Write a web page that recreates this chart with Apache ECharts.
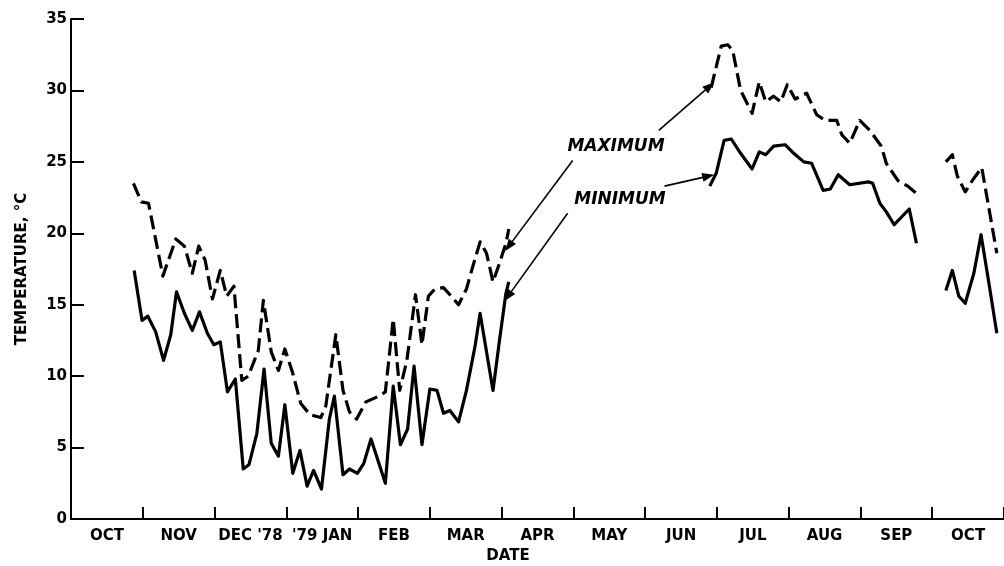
<!DOCTYPE html>
<html>
<head>
<meta charset="utf-8">
<script src="https://cdn.jsdelivr.net/npm/echarts@6/dist/echarts.min.js"></script>
<style>
  html, body { margin: 0; padding: 0; background: #fff; }
  #chart { width: 1004px; height: 566px; }
</style>
</head>
<body>
<div id="chart"></div>
<script>
// Month labels, one per month starting October 1978
const monthLabels = ['OCT', 'NOV', "DEC '78", "'79 JAN", 'FEB', 'MAR', 'APR', 'MAY', 'JUN', 'JUL', 'AUG', 'SEP', 'OCT'];

// Positions are in months since 1 October 1978; temperatures in °C
const maxFallX = [0.87,0.98,1.08,1.28,1.46,1.58,1.69,1.78,1.87,1.97,2.08,2.17,2.27,2.38,2.47,2.61,2.68,2.79,2.89,2.98,3.09,3.20,3.33,3.48,3.55,3.69,3.79,3.88,3.98,4.11,4.29,4.38,4.49,4.58,4.68,4.80,4.89,4.98,5.07,5.19,5.28,5.40,5.51,5.60,5.70,5.79,5.88,5.97,6.06,6.10];
const maxFallY = [23.5,22.2,22.1,17.0,19.6,19.1,17.2,19.1,18.1,15.4,17.4,15.6,16.3,9.7,10.0,11.8,15.3,11.7,10.4,11.9,10.2,8.1,7.3,7.1,7.9,12.9,9.0,7.5,7.0,8.2,8.6,8.9,14.0,9.0,11.1,15.7,12.2,15.6,16.1,16.2,15.7,15.0,16.1,17.7,19.4,18.6,16.6,17.9,19.3,20.3];

const minFallX = [0.88,0.99,1.07,1.18,1.29,1.39,1.47,1.58,1.69,1.79,1.90,1.99,2.08,2.18,2.29,2.40,2.48,2.59,2.69,2.79,2.89,2.98,3.09,3.19,3.29,3.38,3.49,3.60,3.67,3.79,3.88,3.99,4.08,4.18,4.29,4.38,4.49,4.59,4.69,4.78,4.89,5.00,5.10,5.19,5.28,5.40,5.51,5.63,5.70,5.88,5.97,6.06,6.10];
const minFallY = [17.4,13.9,14.2,13.1,11.1,12.9,15.9,14.4,13.2,14.5,13.0,12.2,12.4,8.9,9.8,3.5,3.8,6.0,10.5,5.3,4.4,8.0,3.2,4.8,2.3,3.4,2.1,7.0,8.6,3.1,3.5,3.2,3.9,5.6,3.9,2.5,9.3,5.2,6.3,10.7,5.2,9.1,9.0,7.4,7.6,6.8,9.0,12.1,14.4,9.0,12.5,15.8,16.6];

const maxSummerX = [8.92,9.06,9.15,9.22,9.33,9.49,9.59,9.68,9.79,9.89,9.98,10.09,10.25,10.39,10.51,10.67,10.74,10.85,10.99,11.13,11.29,11.36,11.52,11.66,11.80];
const maxSummerY = [30.2,33.1,33.2,32.8,30.0,28.4,30.6,29.2,29.6,29.2,30.4,29.4,29.8,28.3,27.9,27.9,26.9,26.3,27.9,27.2,26.1,24.9,23.7,23.3,22.7];

const minSummerX = [8.90,8.99,9.10,9.20,9.33,9.49,9.59,9.68,9.79,9.95,10.07,10.21,10.32,10.48,10.58,10.69,10.85,11.11,11.17,11.27,11.36,11.47,11.68,11.78];
const minSummerY = [23.3,24.2,26.5,26.6,25.6,24.5,25.7,25.5,26.1,26.2,25.6,25.0,24.9,23.0,23.1,24.1,23.4,23.6,23.5,22.1,21.5,20.6,21.7,19.3];

const maxAutumnX = [12.19,12.28,12.35,12.46,12.56,12.69,12.90];
const maxAutumnY = [25.0,25.5,24.0,22.9,23.7,24.6,18.6];

const minAutumnX = [12.19,12.28,12.37,12.46,12.58,12.68,12.79,12.90];
const minAutumnY = [16.0,17.4,15.6,15.1,17.2,19.9,16.5,13.0];

const zip = (xs, ys) => xs.map((x, i) => [x, ys[i]]);

const INK = '#000';
const dashStyle = { color: INK, width: 3.2, type: [14, 6], cap: 'butt', join: 'round' };
const solidStyle = { color: INK, width: 3.2, join: 'round' };

// Leader arrows from the MAXIMUM / MINIMUM captions to each curve (data units)
const arrowStyle = { color: INK, width: 1.6, type: 'solid' };
function arrow(from, to, curveness) {
  return [
    { coord: from, lineStyle: Object.assign({}, arrowStyle, { curveness: curveness }) },
    { coord: to }
  ];
}
function leaderSet(lines) {
  return {
    silent: true, animation: false,
    symbol: ['none', 'triangle'], symbolSize: [9, 12], symbolOffset: [0, 0],
    label: { show: false },
    emphasis: { disabled: true },
    itemStyle: { color: INK },
    lineStyle: arrowStyle,
    data: lines
  };
}
const maxArrows = leaderSet([
  arrow([8.19, 27.2], [8.90, 30.3], 0),
  arrow([6.99, 25.1], [6.10, 19.1], 0.15)
]);
const minArrows = leaderSet([
  arrow([8.27, 23.3], [8.88, 24.0], 0),
  arrow([6.92, 21.4], [6.09, 15.6], 0.13)
]);

function lineSeries(name, data, style, extra) {
  return Object.assign({
    name: name,
    type: 'line',
    xAxisIndex: 0,
    data: data,
    showSymbol: false,
    symbol: 'none',
    lineStyle: style,
    animation: false,
    silent: true,
    clip: true
  }, extra || {});
}

const chart = echarts.init(document.getElementById('chart'), null, { renderer: 'canvas' });

const labelFont = { color: INK, fontFamily: 'DejaVu Sans', fontWeight: 'bold', fontSize: 15 };

chart.setOption({
  backgroundColor: '#fff',
  animation: false,
  grid: { left: 71, top: 19, width: 941, height: 500, containLabel: false },
  xAxis: [
    {
      type: 'value', min: 0, max: 13, interval: 1,
      axisLine: { show: true, onZero: false, lineStyle: { color: INK, width: 2 } },
      axisTick: { show: true, inside: true, length: 12, lineStyle: { color: INK, width: 2 } },
      axisLabel: { show: false },
      splitLine: { show: false }
    },
    {
      type: 'category', data: monthLabels, position: 'bottom', boundaryGap: true,
      axisLine: { show: false }, axisTick: { show: false }, splitLine: { show: false },
      axisLabel: Object.assign({ margin: 10, interval: 0 }, labelFont)
    }
  ],
  yAxis: {
    type: 'value', min: 0, max: 35, interval: 5,
    name: 'TEMPERATURE, °C', nameLocation: 'middle', nameGap: 41, nameRotate: 90,
    nameTextStyle: { color: INK, fontFamily: 'DejaVu Sans', fontWeight: 'bold', fontSize: 15 },
    axisLine: { show: true, lineStyle: { color: INK, width: 2 } },
    axisTick: { show: true, inside: true, length: 13, lineStyle: { color: INK, width: 2 } },
    axisLabel: { margin: 4, color: INK, fontFamily: 'DejaVu Sans', fontWeight: 'bold', fontSize: 15 },
    splitLine: { show: false }
  },
  series: [
    lineSeries('MAXIMUM', zip(maxFallX, maxFallY), dashStyle, { markLine: maxArrows }),
    lineSeries('MAXIMUM', zip(maxSummerX, maxSummerY), dashStyle),
    lineSeries('MAXIMUM', zip(maxAutumnX, maxAutumnY), dashStyle),
    lineSeries('MINIMUM', zip(minFallX, minFallY), solidStyle, { markLine: minArrows }),
    lineSeries('MINIMUM', zip(minSummerX, minSummerY), solidStyle),
    lineSeries('MINIMUM', zip(minAutumnX, minAutumnY), solidStyle)
  ],
  graphic: [
    {
      type: 'text', x: 616, y: 147,
      style: { text: 'MAXIMUM', fill: INK, font: 'italic bold 17px "DejaVu Sans"', align: 'center', verticalAlign: 'middle' }
    },
    {
      type: 'text', x: 620, y: 200,
      style: { text: 'MINIMUM', fill: INK, font: 'italic bold 17px "DejaVu Sans"', align: 'center', verticalAlign: 'middle' }
    },
    {
      type: 'text', x: 508, y: 556,
      style: { text: 'DATE', fill: INK, font: 'bold 15px "DejaVu Sans"', align: 'center', verticalAlign: 'middle' }
    }
  ]
});
</script>
</body>
</html>
